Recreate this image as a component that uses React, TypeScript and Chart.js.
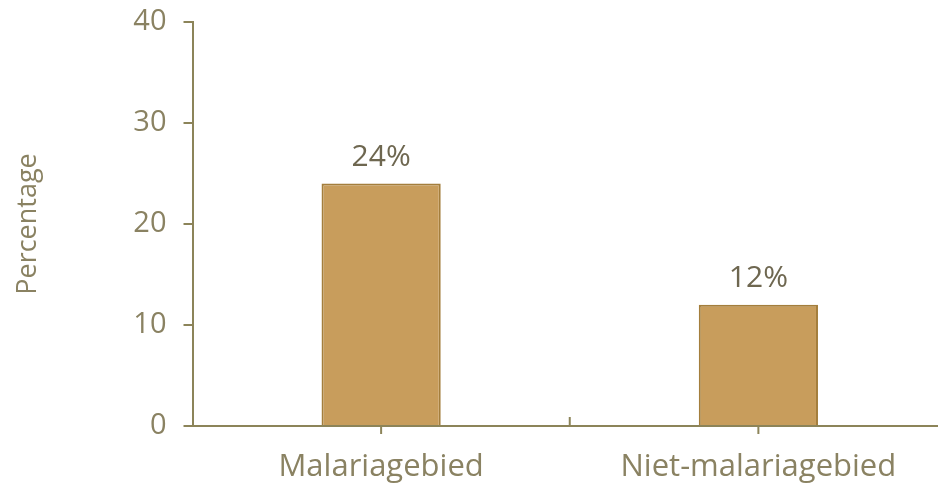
import React, { useEffect, useRef } from "react";
import { Chart, registerables } from "chart.js";

Chart.register(...registerables);

const categories = ["Malariagebied", "Niet-malariagebied"];
const values = [24, 12];
const valueLabels = ["24%", "12%"];
const yTickValues = [0, 10, 20, 30, 40];
const yTitle = "Percentage";

const AXIS = "#8C8459";
const TICK_TEXT = "#8A8262";
const DATA_TEXT = "#6E6750";
const FONT = "'Open Sans', sans-serif";

const extrasPlugin = {
  id: "extras",
  afterDatasetsDraw(chart: any) {
    const ctx = chart.ctx;
    const meta = chart.getDatasetMeta(0);
    ctx.save();
    ctx.fillStyle = DATA_TEXT;
    ctx.font = `30px ${FONT}`;
    ctx.textAlign = "center";
    ctx.textBaseline = "alphabetic";
    meta.data.forEach((bar: any, i: number) => {
      ctx.fillText(valueLabels[i], bar.x, bar.y - 18);
    });
    ctx.restore();
  },
  afterDraw(chart: any) {
    const ctx = chart.ctx;
    const x = chart.scales.x;
    const yb = chart.scales.y.getPixelForValue(0);
    ctx.save();
    ctx.strokeStyle = AXIS;
    ctx.lineWidth = 2;
    const n = categories.length;
    for (let i = 0; i < n; i++) {
      const c = x.getPixelForValue(i);
      ctx.beginPath();
      ctx.moveTo(c, yb);
      ctx.lineTo(c, yb + 8);
      ctx.stroke();
    }
    for (let i = 1; i < n; i++) {
      const b = (x.getPixelForValue(i - 1) + x.getPixelForValue(i)) / 2;
      ctx.beginPath();
      ctx.moveTo(b, yb);
      ctx.lineTo(b, yb - 9);
      ctx.stroke();
    }
    ctx.restore();
  },
};

export default function App() {
  const ref = useRef<HTMLCanvasElement | null>(null);
  useEffect(() => {
    document.body.style.margin = "0";
    document.body.style.overflow = "hidden";
    const chart = new Chart(ref.current as HTMLCanvasElement, {
      type: "bar",
      data: {
        labels: categories,
        datasets: [
          {
            data: values,
            backgroundColor: "#C89D5C",
            borderColor: "#A47E3C",
            borderWidth: 2,
            categoryPercentage: 1,
            barPercentage: 0.316,
          },
        ],
      },
      options: {
        responsive: false,
        animation: false,
        layout: { padding: { top: 22, right: 3, bottom: 0, left: 0 } },
        plugins: { legend: { display: false }, tooltip: { enabled: false } },
        scales: {
          x: {
            grid: { display: false, drawTicks: false },
            border: { display: true, color: AXIS, width: 2 },
            ticks: { color: TICK_TEXT, font: { family: FONT, size: 31 }, padding: 23, maxRotation: 0 },
            afterFit: (s: any) => {
              s.height = 59;
              s.paddingLeft = 0;
              s.paddingRight = 0;
            },
          },
          y: {
            min: 0,
            max: 40,
            afterBuildTicks: (s: any) => {
              s.ticks = yTickValues.map((v) => ({ value: v }));
            },
            grid: { display: true, drawOnChartArea: false, drawTicks: true, tickLength: 9, color: AXIS, lineWidth: 2 },
            border: { display: true, color: AXIS, width: 2 },
            ticks: { color: TICK_TEXT, font: { family: FONT, size: 29 }, padding: 17 },
            title: {
              display: true,
              text: yTitle,
              color: TICK_TEXT,
              font: { family: FONT, size: 27 },
              padding: { top: 12, bottom: 0 },
            },
            afterFit: (s: any) => {
              s.width = 192.5;
              s.paddingTop = 0;
              s.paddingBottom = 0;
            },
          },
        },
      },
      plugins: [extrasPlugin],
    });
    return () => chart.destroy();
  }, []);
  return (
    <div style={{ width: 950, height: 485 }}>
      <canvas ref={ref} width={950} height={485} style={{ display: "block" }} />
    </div>
  );
}
